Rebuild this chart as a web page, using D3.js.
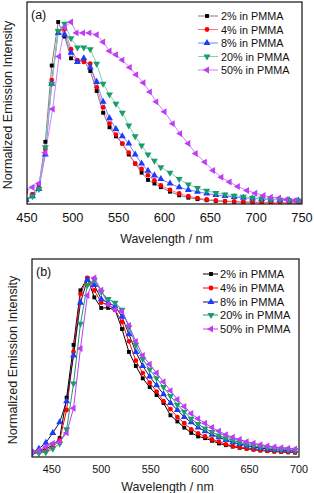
<!DOCTYPE html>
<html>
<head>
<meta charset="utf-8">
<script src="https://cdn.jsdelivr.net/npm/d3@7"></script>
<style>
  body { margin: 0; background: #fff; }
  svg { display: block; font-family: "Liberation Sans", Arial, sans-serif; }
</style>
</head>
<body>
<div id="container"></div>
<script>
// legend labels
const labels = ["2% in PMMA", "4% in PMMA", "8% in PMMA", "20% in PMMA", "50% in PMMA"];

// panel (a) wavelengths (nm)
const wlA = [449,456,463,470,477,484,491,498,505,512,519,526,533,540,547,554,561,568,575,582,589,596,606,616,626,636,646,656,666,676,686,696,706,716,726,736,746];
const wlA50 = [449,456,463,470,478,485,491,498,504,511,518,526,533,540,547,554,562,569,577,584,591,600,609,617,626,634,644,653,662,671,680,690,699,708,716,725,733,742,750];

// panel (a) normalized intensities
const a2 = [0.02,0.05,0.10,0.34,0.76,1.00,0.92,0.80,0.78,0.79,0.73,0.62,0.50,0.42,0.37,0.33,0.27,0.22,0.17,0.13,0.11,0.09,0.065,0.045,0.032,0.024,0.018,0.014,0.011,0.009,0.007,0.006,0.005,0.004,0.004,0.003,0.003];
const a4 = [0.02,0.05,0.09,0.30,0.68,0.95,0.96,0.85,0.79,0.78,0.77,0.64,0.53,0.44,0.38,0.33,0.28,0.22,0.19,0.155,0.127,0.10,0.075,0.055,0.04,0.03,0.022,0.017,0.013,0.011,0.009,0.008,0.007,0.006,0.005,0.005,0.004];
const a8 = [0.02,0.04,0.08,0.27,0.66,0.94,0.93,0.83,0.78,0.80,0.75,0.67,0.56,0.47,0.41,0.37,0.33,0.27,0.22,0.18,0.155,0.135,0.11,0.09,0.075,0.065,0.055,0.047,0.041,0.036,0.032,0.028,0.025,0.022,0.02,0.018,0.016];
const a20 = [0.02,0.04,0.08,0.31,0.66,0.95,0.99,0.91,0.86,0.86,0.85,0.77,0.66,0.60,0.55,0.50,0.43,0.37,0.32,0.27,0.235,0.20,0.17,0.135,0.105,0.085,0.07,0.058,0.05,0.043,0.037,0.032,0.028,0.024,0.021,0.018,0.016];
const a50 = [0.07,0.09,0.11,0.28,0.52,0.81,0.97,1.00,0.94,0.94,0.94,0.93,0.89,0.84,0.82,0.79,0.75,0.71,0.665,0.615,0.56,0.505,0.44,0.385,0.33,0.275,0.228,0.182,0.145,0.118,0.094,0.072,0.057,0.044,0.035,0.03,0.022,0.017,0.011];

// panel (b) wavelengths (nm)
const wlB = [430,437,444,451,458,465,472,479,486,493,500,507,514,521,528,535,542,549,556,563,570,577,584,591,598,605,612,619,626,633,640,647,654,661,668,675,682,689,696];

// panel (b) normalized intensities
const b2 = [0.01,0.015,0.03,0.05,0.09,0.32,0.62,0.93,1.0,0.89,0.83,0.83,0.82,0.71,0.58,0.50,0.43,0.38,0.335,0.29,0.22,0.185,0.15,0.12,0.10,0.09,0.075,0.06,0.05,0.042,0.035,0.03,0.025,0.02,0.017,0.014,0.012,0.01,0.008];
const b4 = [0.005,0.01,0.02,0.04,0.08,0.25,0.58,0.91,1.0,0.93,0.86,0.85,0.82,0.75,0.64,0.53,0.46,0.405,0.355,0.30,0.255,0.21,0.175,0.14,0.117,0.10,0.083,0.07,0.055,0.045,0.038,0.032,0.026,0.022,0.018,0.015,0.013,0.011,0.01];
const b8 = [0.01,0.03,0.064,0.12,0.18,0.30,0.56,0.86,0.99,0.96,0.88,0.86,0.84,0.78,0.68,0.58,0.50,0.44,0.39,0.34,0.29,0.25,0.21,0.18,0.15,0.13,0.11,0.095,0.08,0.067,0.057,0.048,0.04,0.034,0.029,0.025,0.022,0.02,0.018];
const b20 = [0.005,0.005,0.01,0.03,0.06,0.14,0.40,0.74,0.96,0.99,0.92,0.88,0.86,0.82,0.72,0.62,0.54,0.48,0.43,0.38,0.33,0.28,0.24,0.20,0.17,0.145,0.125,0.105,0.09,0.077,0.066,0.056,0.048,0.041,0.036,0.031,0.027,0.024,0.021];
const b50 = [0.01,0.02,0.04,0.06,0.07,0.12,0.26,0.60,0.90,1.0,0.93,0.85,0.82,0.81,0.73,0.64,0.56,0.51,0.46,0.41,0.36,0.31,0.27,0.23,0.20,0.175,0.15,0.13,0.11,0.095,0.082,0.07,0.061,0.053,0.046,0.04,0.036,0.032,0.028];

const ticksA = [450, 500, 550, 600, 650, 700, 750];
const ticksB = [450, 500, 550, 600, 650, 700];

// marker styles
const markerColors = ["#000000", "#ff0000", "#1a3cff", "#1a9c6c", "#c03cf5"];
const lineColorsA = ["#808080", "#ff7090", "#7080ff", "#80d0b0", "#d080ff"];
const lineColorsB = ["#000000", "#ff0000", "#141440", "#1a9c6c", "#c03cf5"];
const shapes = [
  { type: d3.symbolSquare, size: 15, rot: 0 },
  { type: d3.symbolCircle, size: 18, rot: 0 },
  { type: d3.symbolTriangle, size: 21, rot: 0 },
  { type: d3.symbolTriangle, size: 21, rot: 180 },
  { type: d3.symbolTriangle, size: 21, rot: -90 }
];

const svg = d3.select("#container")
  .append("svg")
    .attr("width", 314)
    .attr("height", 493)
;

function drawPanel(p) {
  const x = d3.scaleLinear().domain(p.xDomain).range([p.left, p.right]);
  const y = d3.scaleLinear().domain([0, 1]).range([p.y0, p.y1]);
  const g = svg.append("g");

  g.append("clipPath").attr("id", p.id)
    .append("rect")
      .attr("x", p.left).attr("y", p.top)
      .attr("width", p.right - p.left).attr("height", p.bottom - p.top);

  const plot = g.append("g").attr("clip-path", `url(#${p.id})`);
  const line = d3.line().x(d => x(d[0])).y(d => y(d[1]));

  p.series.forEach((s, i) => {
    const pts = s.wl.map((w, k) => [w, s.v[k]]);
    plot.append("path")
      .attr("d", line(pts))
      .attr("fill", "none")
      .attr("stroke", p.lineColors[i])
      .attr("stroke-width", 1);
  });
  p.series.forEach((s, i) => {
    const pts = s.wl.map((w, k) => [w, s.v[k]]);
    const sym = d3.symbol().type(shapes[i].type).size(shapes[i].size);
    plot.selectAll(null).data(pts).enter().append("path")
      .attr("d", sym)
      .attr("transform", d => `translate(${x(d[0])},${y(d[1])}) rotate(${shapes[i].rot})`)
      .attr("fill", markerColors[i]);
  });

  // frame
  g.append("rect")
    .attr("x", p.left).attr("y", p.top)
    .attr("width", p.right - p.left).attr("height", p.bottom - p.top)
    .attr("fill", "none").attr("stroke", "#111").attr("stroke-width", 1.2);

  // tick labels
  g.selectAll(null).data(p.ticks).enter().append("text")
    .text(d => d)
    .attr("x", d => x(d))
    .attr("y", p.tickY)
    .attr("text-anchor", "middle")
    .attr("font-size", p.tickSize)
    .attr("fill", "#111");

  g.append("text")
    .text("Wavelength / nm")
    .attr("x", (p.left + p.right) / 2 + 2)
    .attr("y", p.titleY)
    .attr("text-anchor", "middle")
    .attr("font-size", 12.4)
    .attr("fill", "#222");

  g.append("text")
    .text("Normalized Emission Intensity")
    .attr("transform", `translate(${p.ylabX},${(p.top + p.bottom) / 2 + 2}) rotate(-90)`)
    .attr("text-anchor", "middle")
    .attr("font-size", 12.6)
    .attr("fill", "#222");

  g.append("text")
    .text(p.tag)
    .attr("x", p.left + 4)
    .attr("y", p.top + 17)
    .attr("font-size", 12.5)
    .attr("fill", "#111");

  // legend
  labels.forEach((lab, i) => {
    const ly = p.legY[i];
    g.append("line")
      .attr("x1", p.legX1).attr("x2", p.legX2)
      .attr("y1", ly).attr("y2", ly)
      .attr("stroke", p.lineColors[i]).attr("stroke-width", 1);
    g.append("path")
      .attr("d", d3.symbol().type(shapes[i].type).size(shapes[i].size)())
      .attr("transform", `translate(${p.legMark},${ly}) rotate(${shapes[i].rot})`)
      .attr("fill", markerColors[i]);
    g.append("text")
      .text(lab)
      .attr("x", p.legText)
      .attr("y", ly + 4)
      .attr("font-size", p.legSize)
      .attr("fill", "#111");
  });
}

drawPanel({
  id: "clipA", tag: "(a)",
  xDomain: [450, 750], left: 27, right: 302, top: 2, bottom: 204,
  y0: 203.5, y1: 22,
  ticks: ticksA, tickY: 221.5, tickSize: 12.8, titleY: 242.5, ylabX: 12,
  lineColors: lineColorsA,
  series: [
    { wl: wlA, v: a2 }, { wl: wlA, v: a4 }, { wl: wlA, v: a8 },
    { wl: wlA, v: a20 }, { wl: wlA50, v: a50 }
  ],
  legY: [16, 29.5, 43, 56.5, 70], legX1: 198, legX2: 218, legMark: 207, legText: 221, legSize: 10.8
});

drawPanel({
  id: "clipB", tag: "(b)",
  xDomain: [430, 700], left: 32, right: 299, top: 259, bottom: 457,
  y0: 454, y1: 278,
  ticks: ticksB, tickY: 473, tickSize: 10.8, titleY: 490.5, ylabX: 17,
  lineColors: lineColorsB,
  series: [
    { wl: wlB, v: b2 }, { wl: wlB, v: b4 }, { wl: wlB, v: b8 },
    { wl: wlB, v: b20 }, { wl: wlB, v: b50 }
  ],
  legY: [274, 288, 302, 315, 329], legX1: 203, legX2: 218, legMark: 211, legText: 220, legSize: 11.1
});
</script>
</body>
</html>
